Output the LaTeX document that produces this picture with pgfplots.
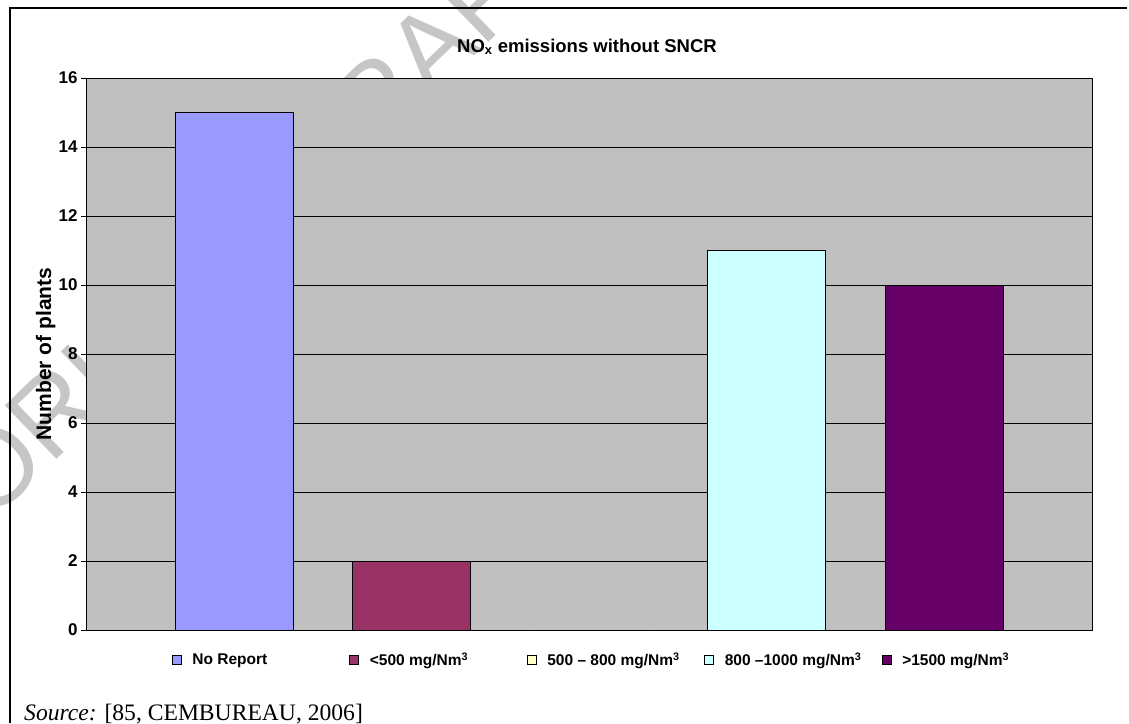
\documentclass[border=0pt]{standalone}
\usepackage{pgfplots}
\pgfplotsset{compat=1.18}
\usepackage{fontspec}
\setmainfont{Liberation Sans}
\newfontfamily\srcfont{Liberation Serif}

\definecolor{bgray}{HTML}{C0C0C0}
\definecolor{cNoRep}{HTML}{9999FF}
\definecolor{cLt500}{HTML}{993366}
\definecolor{cMid}{HTML}{FFFFCC}
\definecolor{cHigh}{HTML}{CCFFFF}
\definecolor{cTop}{HTML}{660066}
\definecolor{wmark}{HTML}{C6C6C6}

% one bar per series, legend marker is a small square
\pgfplotsset{
  bx/.style={ybar, bar width=0.665, bar shift=0pt, fill=#1, draw=black, line width=0.9pt,
    legend image code/.code={
      \draw[fill=#1, draw=black, line width=0.9pt] (0pt,-4.5pt) rectangle (9pt,4.5pt);
      \path[draw=none, fill=none] (0pt,0pt) -- (18pt,0pt);}},
}
\newcommand{\legtxt}[1]{\makebox[155pt][l]{#1}}

\begin{document}
\begin{tikzpicture}
\useasboundingbox (0pt,0pt) rectangle (1129pt,-723pt);
% faint watermark behind the chart
\node[rotate=44, text=wmark, font=\fontsize{108}{108}\selectfont, inner sep=0pt] at (221pt,-249pt) {WORKING DRAFT};
% frame of the table cell
\draw[line width=2pt] (10pt,-723pt) -- (10pt,-8pt) -- (1127pt,-8pt);

\begin{axis}[
  at={(86pt,-630pt)}, anchor=south west,
  scale only axis,
  width=1006pt, height=552pt,
  xmin=-0.834, xmax=4.834,
  ymin=0, ymax=16,
  ytick={0,2,...,16},
  xtick=\empty,
  ytick pos=left,
  tick align=outside,
  major tick length=5pt,
  ymajorgrids,
  grid style={black, line width=0.9pt},
  axis background/.style={fill=bgray},
  axis line style={black, line width=0.9pt},
  tick style={black, line width=0.9pt},
  /pgf/number format/assume math mode=true,
  yticklabel style={font=\bfseries\fontsize{17}{20}\selectfont},
  title={NO\textsubscript{x} emissions without SNCR},
  title style={at={(axis description cs:0.498,1.0362)}, anchor=base,
    font=\bfseries\fontsize{18.5}{22}\selectfont},
  ylabel={Number of plants},
  every axis y label/.style={at={(axis description cs:-0.0400,0.5)}, rotate=90,
    anchor=center, font=\bfseries\fontsize{21}{24}\selectfont},
  legend columns=5,
  legend cell align=left,
  legend style={draw=none, fill=none, at={(axis description cs:0.0855,-0.0543)},
    anchor=west, inner sep=0pt, outer sep=0pt, column sep=0pt,
    nodes={inner xsep=2pt},
    font=\bfseries\fontsize{15.5}{18}\selectfont},
]
\addplot[bx=cNoRep] coordinates {(0,15)};
\addlegendentry{\legtxt{No Report}}
\addplot[bx=cLt500] coordinates {(1,2)};
\addlegendentry{\legtxt{<500 mg/Nm\textsuperscript{3}}}
\addplot[bx=cMid] coordinates {(2,0)};
\addlegendentry{\legtxt{500 -- 800 mg/Nm\textsuperscript{3}}}
\addplot[bx=cHigh] coordinates {(3,11)};
\addlegendentry{\legtxt{800 --1000 mg/Nm\textsuperscript{3}}}
\addplot[bx=cTop] coordinates {(4,10)};
\addlegendentry{\legtxt{>1500 mg/Nm\textsuperscript{3}}}
\end{axis}

\node[anchor=base west, inner sep=0pt, font=\srcfont\fontsize{23.6}{28}\selectfont]
  at (24pt,-720pt) {\textit{Source:} [85, CEMBUREAU, 2006]};
\end{tikzpicture}
\end{document}
